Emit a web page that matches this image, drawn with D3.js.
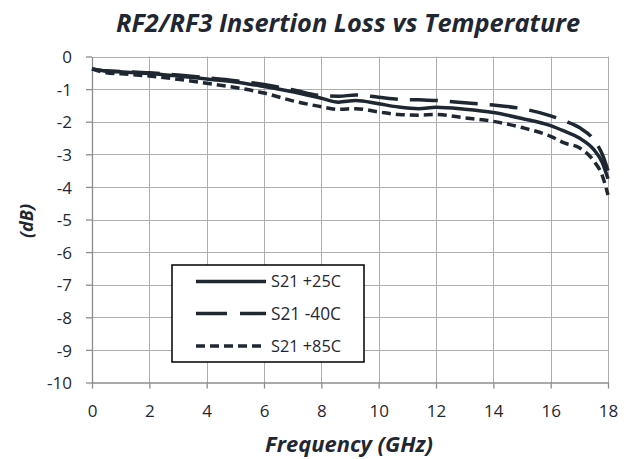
<!DOCTYPE html>
<html><head><meta charset="utf-8">
<script src="https://cdn.jsdelivr.net/npm/d3@7"></script>
<style>body{margin:0;background:#fff;} svg{display:block;}</style>
</head><body>
<script>
const freq = [0,0.5,1,2,3,4,5,6,7,8,8.6,9.2,10,10.7,11.4,12,13,14,15,16,16.5,17,17.5,17.8,18];
const s21_25 = [-0.38,-0.45,-0.47,-0.52,-0.6,-0.69,-0.78,-0.92,-1.08,-1.28,-1.40,-1.35,-1.45,-1.55,-1.6,-1.56,-1.62,-1.72,-1.9,-2.12,-2.3,-2.5,-2.85,-3.25,-3.75];
const s21_m40 = [-0.38,-0.44,-0.46,-0.5,-0.57,-0.65,-0.74,-0.86,-1.02,-1.2,-1.22,-1.18,-1.25,-1.31,-1.33,-1.35,-1.42,-1.49,-1.6,-1.82,-1.98,-2.18,-2.55,-3.0,-3.5];
const s21_85 = [-0.38,-0.5,-0.53,-0.6,-0.7,-0.82,-0.95,-1.12,-1.36,-1.54,-1.62,-1.6,-1.7,-1.78,-1.8,-1.78,-1.88,-1.99,-2.18,-2.45,-2.66,-2.8,-3.2,-3.65,-4.25];
const seriesNames = ["S21 +25C","S21 -40C","S21 +85C"];
const xTicks = [0,2,4,6,8,10,12,14,16,18];
const yTicks = [0,-1,-2,-3,-4,-5,-6,-7,-8,-9,-10];

const W=631,H=459, L=92, R=608, T=56.5, B=382.5;
const svg=d3.select("body").append("svg").attr("width",W).attr("height",H);
const x=d3.scaleLinear().domain([0,18]).range([L,R]);
const y=d3.scaleLinear().domain([-10,0]).range([B,T]);
const color="#1f2733";

// grid
svg.append("g").selectAll("line").data(xTicks.slice(1)).join("line")
  .attr("x1",d=>Math.round(x(d))+0.5).attr("x2",d=>Math.round(x(d))+0.5)
  .attr("y1",T).attr("y2",B).attr("stroke","#adadb2").attr("stroke-width",1);
svg.append("g").selectAll("line").data(yTicks.slice(0,-1)).join("line")
  .attr("x1",L).attr("x2",R).attr("y1",d=>Math.round(y(d))+0.5).attr("y2",d=>Math.round(y(d))+0.5)
  .attr("stroke","#adadb2").attr("stroke-width",1);

// axes
const tickFont="'Open Sans', 'Liberation Sans', sans-serif";
const fmt=d=>String(d);
const xa=svg.append("g").attr("transform",`translate(0,${B})`)
  .call(d3.axisBottom(x).tickValues(xTicks).tickFormat(fmt).tickSize(6).tickSizeOuter(0).tickPadding(16));
const ya=svg.append("g").attr("transform",`translate(${L},0)`)
  .call(d3.axisLeft(y).tickValues(yTicks).tickFormat(fmt).tickSize(6).tickSizeOuter(0).tickPadding(14));
[xa,ya].forEach(a=>{
  a.select(".domain").attr("stroke","#8c8c8c").attr("stroke-width",1.3);
  a.selectAll(".tick line").attr("stroke","#8c8c8c").attr("stroke-width",1.3);
  a.selectAll(".tick text").attr("fill","#1f2733").style("font-family",tickFont).style("font-size","17px");
});
ya.selectAll(".tick text").attr("dy","0.36em");

// lines
const data=[s21_25,s21_m40,s21_85];
const dashes=[null,"28,12","9,5"];
const line=d3.line().curve(d3.curveMonotoneX);
data.forEach((s,i)=>{
  svg.append("path").attr("d",line(freq.map((f,j)=>[x(f),y(s[j])])))
    .attr("fill","none").attr("stroke",color).attr("stroke-width",3.5)
    .attr("stroke-dasharray",dashes[i]);
});

// titles (font size fitted to the reference text width)
const titleFont="'Open Sans','Noto Sans',sans-serif";
function fitText(sel, width, start){
  let fs=start; sel.style("font-size",fs+"px");
  const w=sel.node().getComputedTextLength();
  fs=fs*width/w; sel.style("font-size",fs.toFixed(2)+"px");
}
const t1=svg.append("text").attr("x",348).attr("y",32).attr("text-anchor","middle")
  .style("font-family",titleFont).style("font-weight","bold").style("font-style","italic")
  .attr("fill","#1f2733").text("RF2/RF3 Insertion Loss vs Temperature");
fitText(t1,464,21);
const t2=svg.append("text").attr("x",349).attr("y",452).attr("text-anchor","middle")
  .style("font-family",titleFont).style("font-weight","bold").style("font-style","italic")
  .attr("fill","#1f2733").text("Frequency (GHz)");
fitText(t2,168,18);
svg.append("text").attr("transform","translate(33,221) rotate(-90)").attr("text-anchor","middle")
  .style("font-family",titleFont).style("font-weight","bold").style("font-style","italic")
  .style("font-size","18px").attr("fill","#1f2733").text("(dB)");

// legend
const lg=svg.append("g");
lg.append("rect").attr("x",172).attr("y",265).attr("width",192).attr("height",97)
  .attr("fill","#fff").attr("stroke","#000").attr("stroke-width",1.5);
const rows=[281.5,313.5,346];
seriesNames.forEach((n,i)=>{
  lg.append("line").attr("x1",196).attr("x2",266).attr("y1",rows[i]).attr("y2",rows[i])
    .attr("stroke",color).attr("stroke-width",3.5).attr("stroke-dasharray",i==1?"31,13":(i==2?"9,5":null));
  const tx=lg.append("text").attr("x",271).attr("y",rows[i]).attr("dy","0.36em")
    .style("font-family",titleFont).attr("fill","#1f2733").text(n);
  fitText(tx,70,15);
});
</script>
</body></html>
